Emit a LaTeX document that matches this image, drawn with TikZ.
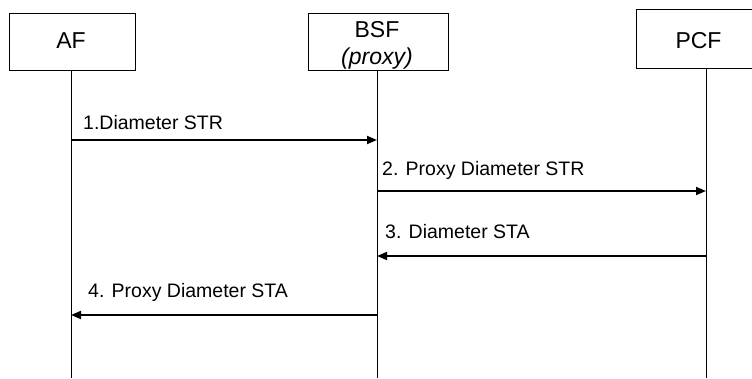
\documentclass[tikz,border=0pt]{standalone}
\usepackage{fontspec}
\setmainfont{Liberation Sans}
\usetikzlibrary{arrows.meta}
\begin{document}
\begin{tikzpicture}[x=1pt,y=-1pt,
  entity/.style={draw,line width=1.2pt,inner sep=0pt,anchor=north west},
  boxtext/.style={inner sep=0pt,anchor=base,font=\fontsize{23}{26}\selectfont},
  lifeline/.style={line width=1pt},
  msg/.style={line width=1.8pt,-{Triangle[length=10pt,width=8pt]}},
  msglabel/.style={inner sep=0pt,anchor=base west,font=\fontsize{19.5}{22}\selectfont}]
\useasboundingbox (0,0) rectangle (752,378);
\clip (0,0) rectangle (752,378);
% boxes
\node[entity,minimum width=126pt,minimum height=57pt] (afbox) at (9,13) {};
\node[entity,minimum width=140pt,minimum height=57pt] (bsfbox) at (308,13) {};
\node[entity,minimum width=125pt,minimum height=59pt] (pcfbox) at (636,9) {};
\node[boxtext] (aft) at (71,48) {AF};
\node[boxtext] (bsft) at (377,37) {BSF};
\node[boxtext] (bsfp) at (377,64) {\itshape (proxy)};
\node[boxtext] (pcft) at (698.5,48) {PCF};
% lifelines
\coordinate (afb) at (71,70);
\coordinate (bsfb) at (377,70);
\coordinate (pcfb) at (706,68);
\coordinate (afe) at (71,378);
\coordinate (bsfe) at (377,378);
\coordinate (pcfe) at (706,378);
\draw[lifeline] (afb) -- (afe);
\draw[lifeline] (bsfb) -- (bsfe);
\draw[lifeline] (pcfb) -- (pcfe);
% message points
\coordinate (a1) at (71,140);
\coordinate (b1) at (377,140);
\coordinate (b2) at (377,191);
\coordinate (p2) at (706,191);
\coordinate (p3) at (706,256);
\coordinate (b3) at (377,256);
\coordinate (b4) at (377,315);
\coordinate (a4) at (71,315);
\draw[msg] (a1) -- (b1);
\draw[msg] (b2) -- (p2);
\draw[msg] (p3) -- (b3);
\draw[msg] (b4) -- (a4);
\node[msglabel] (l1) at (83,129) {1.Diameter STR};
\node[msglabel] (l2) at (382,175) {2. Proxy Diameter STR};
\node[msglabel] (l3) at (385,238) {3. Diameter STA};
\node[msglabel] (l4) at (88,297) {4. Proxy Diameter STA};
\end{tikzpicture}
\end{document}
